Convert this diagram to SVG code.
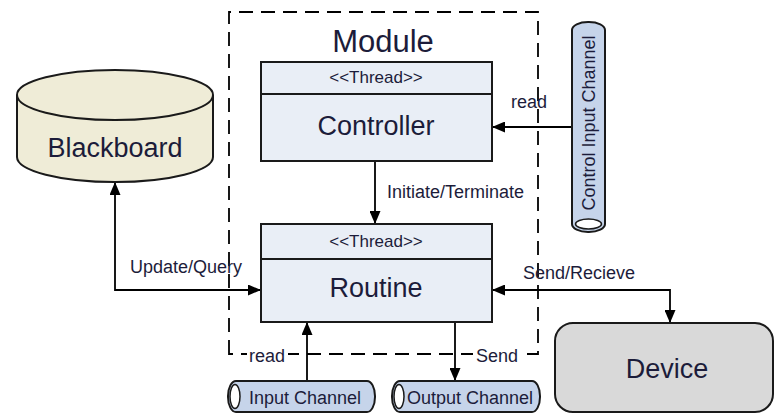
<svg xmlns="http://www.w3.org/2000/svg" width="775" height="415" viewBox="0 0 775 415">
  <style>
    text { font-family: "Liberation Sans", Arial, sans-serif; fill: #1c1c3a; }
    .big { font-size: 27px; text-anchor: middle; }
    .stereo { font-size: 17px; text-anchor: middle; }
    .lbl { font-size: 18px; }
    .box { fill: #e9eef6; stroke: #1a1a1a; stroke-width: 2; }
    .chan { fill: #c6d4ea; stroke: #1a1a1a; stroke-width: 2; }
    .hole { fill: #ffffff; stroke: #1a1a1a; stroke-width: 1.5; }
    .conn { fill: none; stroke: #000; stroke-width: 1.8; }
  </style>
  <defs>
    <marker id="arrow" viewBox="0 0 13 11" refX="13" refY="5.5" markerWidth="13" markerHeight="11" markerUnits="userSpaceOnUse" orient="auto-start-reverse">
      <path d="M0,0 L13,5.5 L0,11 Z" fill="#000"/>
    </marker>
  </defs>

  <!-- module boundary, drawn from the bottom-left corner so the corners stay solid -->
  <g id="module">
    <path d="M229,354 V12 H538 V354 Z" fill="none" stroke="#000" stroke-width="1.8" stroke-dasharray="14 8"/>
    <text x="383" y="52" style="font-size:31px;text-anchor:middle">Module</text>
  </g>

  <!-- connectors -->
  <g id="connectors">
    <path class="conn" d="M375,161 V224" marker-end="url(#arrow)"/>
    <path class="conn" d="M115,182 V290 H261" marker-start="url(#arrow)" marker-end="url(#arrow)"/>
    <path class="conn" d="M572,127 H492" marker-end="url(#arrow)"/>
    <path class="conn" d="M492,290 H670 V323" marker-start="url(#arrow)" marker-end="url(#arrow)"/>
    <path class="conn" d="M307,381 V322" marker-end="url(#arrow)"/>
    <path class="conn" d="M455,322 V381" marker-end="url(#arrow)"/>
    <text class="lbl" x="387" y="198">Initiate/Terminate</text>
    <text class="lbl" x="130" y="273">Update/Query</text>
    <text class="lbl" x="523" y="279">Send/Recieve</text>
    <text class="lbl" x="511" y="108">read</text>
    <rect x="247" y="346" width="41" height="18" fill="#fff"/>
    <text class="lbl" x="249" y="362">read</text>
    <rect x="473" y="346" width="47" height="18" fill="#fff"/>
    <text class="lbl" x="476" y="362">Send</text>
  </g>

  <!-- blackboard store -->
  <g id="blackboard">
    <path d="M17,95 V157 A98,25 0 0 0 213,157 V95" fill="#efecd7" stroke="#1a1a1a" stroke-width="2"/>
    <ellipse cx="115" cy="95" rx="98" ry="25" fill="#efecd7" stroke="#1a1a1a" stroke-width="2"/>
    <text class="big" x="115" y="157">Blackboard</text>
  </g>

  <!-- controller thread -->
  <g id="controller">
    <rect class="box" x="261" y="62" width="231" height="99"/>
    <line x1="261" y1="94" x2="492" y2="94" stroke="#1a1a1a" stroke-width="2"/>
    <text class="stereo" x="376" y="83">&lt;&lt;Thread&gt;&gt;</text>
    <text class="big" x="376" y="135">Controller</text>
  </g>

  <!-- routine thread -->
  <g id="routine">
    <rect class="box" x="261" y="224" width="231" height="98"/>
    <line x1="261" y1="259" x2="492" y2="259" stroke="#1a1a1a" stroke-width="2"/>
    <text class="stereo" x="376" y="247">&lt;&lt;Thread&gt;&gt;</text>
    <text class="big" x="376" y="297">Routine</text>
  </g>

  <!-- control input channel -->
  <g id="control-input-channel">
    <rect class="chan" x="572" y="22" width="33" height="210" rx="16" ry="8"/>
    <ellipse class="hole" cx="588.5" cy="224" rx="13" ry="5"/>
    <text class="lbl" transform="translate(595,123) rotate(-90)" text-anchor="middle">Control Input Channel</text>
  </g>

  <!-- input channel -->
  <g id="input-channel">
    <rect class="chan" x="228" y="381" width="147" height="31" rx="8" ry="15"/>
    <ellipse class="hole" cx="235" cy="396.5" rx="5" ry="12"/>
    <text class="lbl" x="249" y="404">Input Channel</text>
  </g>

  <!-- output channel -->
  <g id="output-channel">
    <rect class="chan" x="392" y="381" width="148" height="31" rx="8" ry="15"/>
    <ellipse class="hole" cx="399" cy="396.5" rx="5" ry="12"/>
    <text class="lbl" x="407" y="404">Output Channel</text>
  </g>

  <!-- device -->
  <g id="device">
    <rect x="555" y="323" width="218" height="89" rx="18" ry="18" fill="#d9d9d9" stroke="#1a1a1a" stroke-width="2"/>
    <text class="big" x="667" y="378">Device</text>
  </g>
</svg>
